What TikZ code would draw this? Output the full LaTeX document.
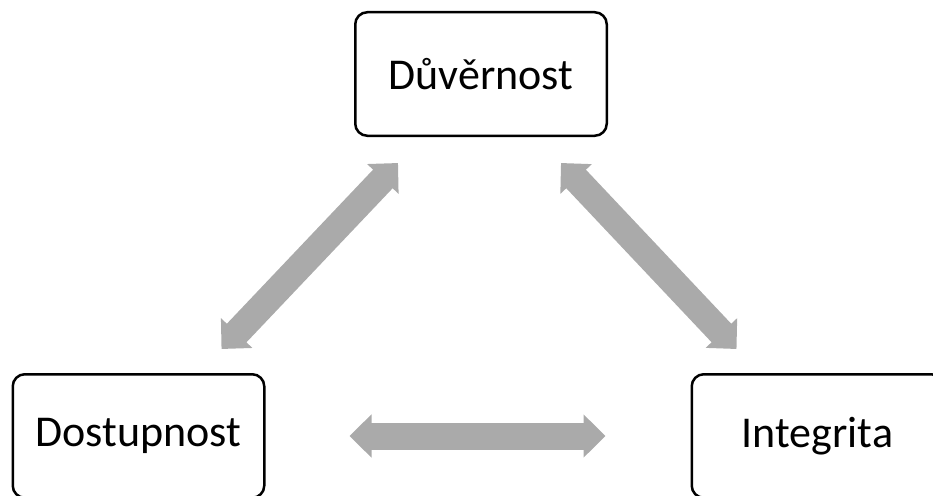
\documentclass[tikz,border=0pt]{standalone}
\usepackage{fontspec}
\setmainfont{Carlito}
\usetikzlibrary{arrows.meta}

\definecolor{arrowgray}{RGB}{170,170,170}

\tikzstyle{box} = [rectangle, rounded corners=12pt, minimum width=251.5pt, minimum height=123.5pt, text centered, draw=black, line width=2.5pt, font=\fontsize{44}{52}\selectfont]
\tikzstyle{arrow} = [draw=arrowgray, line width=27pt, {Triangle[length=22pt,width=42pt]}-{Triangle[length=22pt,width=42pt]}]

\begin{document}
\begin{tikzpicture}[x=1pt,y=-1pt]
\useasboundingbox (0,0) rectangle (933,495);

\node (duv) [box] at (481,74) {Důvěrnost};
\node (dost) [box] at (138.5,436) {Dostupnost};
\node (integ) [box] at (817.5,436) {Integrita};

\draw [arrow] ([xshift=44pt,yshift=-26pt]duv.south west) -- ([xshift=-44pt,yshift=24pt]dost.north east);
\draw [arrow] ([xshift=-47pt,yshift=-26pt]duv.south east) -- ([xshift=46pt,yshift=24pt]integ.north west);
\draw [arrow] ([xshift=84pt]dost.east) -- ([xshift=-85pt]integ.west);

\end{tikzpicture}
\end{document}
